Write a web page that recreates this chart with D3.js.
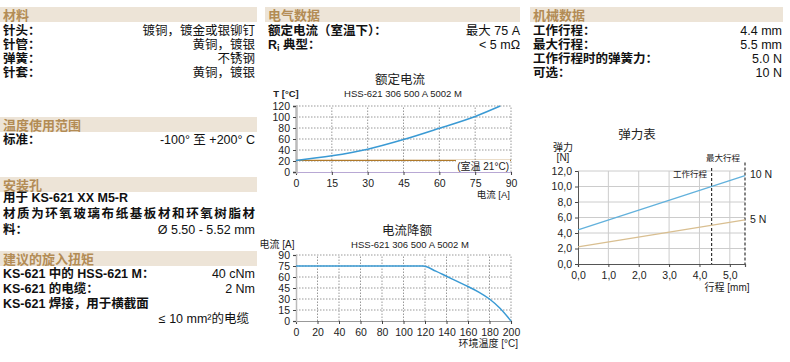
<!DOCTYPE html>
<html>
<head>
<meta charset="utf-8">
<script src="https://cdn.jsdelivr.net/npm/d3@7"></script>
<style>
	body { margin: 0; background: #fff; }
	svg { display: block; }
</style>
</head>
<body>
<div id="chart"></div>
<script>
// 数据
var sections = [
	{ title: "材料", x: 0, w: 257, y: 7 },
	{ title: "温度使用范围", x: 0, w: 257, y: 117 },
	{ title: "安装孔", x: 0, w: 257, y: 177 },
	{ title: "建议的旋入扭矩", x: 0, w: 257, y: 251 },
	{ title: "电气数据", x: 265, w: 255, y: 7 },
	{ title: "机械数据", x: 530, w: 253, y: 7 }
];
var rows = [
	{ x0: 0, x1: 255, y: 31, label: "针头：", value: "镀铜，镀金或银铆钉" },
	{ x0: 0, x1: 255, y: 45, label: "针管：", value: "黄铜，镀银" },
	{ x0: 0, x1: 255, y: 59, label: "弹簧：", value: "不锈钢" },
	{ x0: 0, x1: 255, y: 73, label: "针套：", value: "黄铜，镀银" },
	{ x0: 0, x1: 255, y: 140, label: "标准：", value: "-100° 至 +200° C" },
	{ x0: 0, x1: 255, y: 198, label: "用于 KS-621 XX M5-R", value: "" },
	{ x0: 0, x1: 255, y: 214, label: "材质为环氧玻璃布纸基板材和环氧树脂材", value: "", fit: 252 },
	{ x0: 0, x1: 255, y: 230, label: "料：", value: "Ø 5.50 - 5.52 mm" },
	{ x0: 0, x1: 255, y: 274, label: "KS-621 中的 HSS-621 M：", value: "40 cNm" },
	{ x0: 0, x1: 255, y: 289, label: "KS-621 的电缆：", value: "2 Nm" },
	{ x0: 0, x1: 255, y: 304, label: "KS-621 焊接，用于横截面", value: "" },
	{ x0: 0, x1: 249, y: 319, label: "", value: "≤ 10 mm²的电缆" },
	{ x0: 265, x1: 520, y: 31, label: "额定电流（室温下）：", value: "最大 75 A" },
	{ x0: 265, x1: 520, y: 45, label: "R|i| 典型：", value: "< 5 mΩ" },
	{ x0: 530, x1: 782, y: 31, label: "工作行程：", value: "4.4 mm" },
	{ x0: 530, x1: 782, y: 45, label: "最大行程：", value: "5.5 mm" },
	{ x0: 530, x1: 782, y: 59, label: "工作行程时的弹簧力：", value: "5.0 N" },
	{ x0: 530, x1: 782, y: 73, label: "可选：", value: "10 N" }
];

// 额定电流
var ratedI = [0, 15, 30, 45, 60, 75, 85.5];
var ratedT = [21, 29.5, 41.5, 59, 79.5, 101, 120];
var roomTemp = 21;
var ratedXTicks = [0, 15, 30, 45, 60, 75, 90];
var ratedYTicks = [0, 20, 40, 60, 80, 100, 120];

// 电流降额
var derateT = [0, 118, 130, 140, 150, 160, 170, 180, 190, 200];
var derateI = [75, 75, 68, 61, 54, 47, 39.5, 30, 17, 0];
var derateXTicks = [0, 20, 40, 60, 80, 100, 120, 140, 160, 180, 200];
var derateYTicks = [0, 15, 30, 45, 60, 75, 90];

// 弹力表
var stroke = [0, 5.5];
var force10 = [4.4, 11.4];
var force5 = [2.2, 5.7];
var springXTicks = [0, 1, 2, 3, 4, 5];
var springYTicks = [0, 2, 4, 6, 8, 10, 12];
var workStroke = 4.4;
var maxStroke = 5.5;

var arial = "'Liberation Sans', Arial, 'Noto Sans CJK SC', sans-serif";
var gold = "#b38c55";
var blue = "#3a9ad4";
var tan = "#d9bf91";

var svg = d3.select("#chart").append("svg")
	.attr("width", 790)
	.attr("height", 362);

// 标题条
sections.forEach(function(s) {
	svg.append("rect")
		.attr("x", s.x).attr("y", s.y)
		.attr("width", s.w).attr("height", 15)
		.attr("fill", "#ede4d7");
	svg.append("text")
		.attr("x", s.x + 3).attr("y", s.y + 8)
		.attr("dominant-baseline", "central")
		.style("font-family", arial)
		.style("font-size", "13px")
		.style("font-weight", "bold")
		.attr("fill", gold)
		.text(s.title);
});

rows.forEach(function(r) {
	if (r.label) {
		var t = svg.append("text")
			.attr("x", r.x0 + 3).attr("y", r.y)
			.attr("dominant-baseline", "central")
			.style("font-family", arial)
			.style("font-size", "12.5px")
			.style("font-weight", "bold")
			.attr("fill", "#111");
		// "|i|" 表示下标
		r.label.split("|").forEach(function(part, i) {
			var sp = t.append("tspan").text(part);
			if (i == 1) sp.attr("dy", 3).style("font-size", "9px");
			if (i == 2) sp.attr("dy", -3);
		});
		if (r.fit) t.attr("textLength", r.fit).attr("lengthAdjust", "spacing");
	}
	if (r.value) svg.append("text")
		.attr("x", r.x1).attr("y", r.y)
		.attr("dominant-baseline", "central")
		.attr("text-anchor", "end")
		.style("font-family", arial)
		.style("font-size", "12.5px")
		.attr("fill", "#111")
		.text(r.value);
});

function txt(x, y, s, size, anchor, weight) {
	return svg.append("text")
		.attr("x", x).attr("y", y)
		.attr("dominant-baseline", "central")
		.attr("text-anchor", anchor || "middle")
		.style("font-family", arial)
		.style("font-size", size + "px")
		.style("font-weight", weight || "normal")
		.attr("fill", "#222")
		.text(s);
}

// 通用网格图
function grid(x, y, xt, yt, opt) {
	var g = svg.append("g");
	g.selectAll(".vx").data(xt.slice(1)).enter().append("line")
		.attr("x1", d => x(d)).attr("x2", d => x(d))
		.attr("y1", y.range()[0]).attr("y2", y.range()[1])
		.attr("stroke", opt.gridColor)
		.attr("stroke-dasharray", opt.dash)
		.attr("stroke-width", 1);
	g.selectAll(".hy").data(yt.slice(1)).enter().append("line")
		.attr("x1", x.range()[0]).attr("x2", x.range()[1])
		.attr("y1", d => y(d)).attr("y2", d => y(d))
		.attr("stroke", opt.gridColor)
		.attr("stroke-dasharray", opt.dash)
		.attr("stroke-width", 1);

	var xa = svg.append("g")
		.attr("transform", `translate(0,${y.range()[0]})`)
		.call(d3.axisBottom(x).tickValues(xt).tickSize(3).tickFormat(opt.fmtX));
	var ya = svg.append("g")
		.attr("transform", `translate(${x.range()[0]},0)`)
		.call(d3.axisLeft(y).tickValues(yt).tickSize(3).tickFormat(opt.fmtY));
	[xa, ya].forEach(function(a) {
		a.selectAll("text")
			.style("font-family", arial)
			.style("font-size", "10.5px")
			.attr("fill", "#222");
		a.selectAll(".tick line").attr("stroke", "#444");
	});
	xa.select(".domain").attr("stroke", opt.xAxisColor).attr("stroke-width", 1.2);
	ya.select(".domain").attr("stroke", opt.yAxisColor).attr("stroke-width", opt.yAxisWidth);
	xa.selectAll("text").attr("dy", "0.9em");
	return g;
}

// 图1 额定电流
var x1 = d3.scaleLinear().domain([0, 90]).range([296, 511]);
var y1 = d3.scaleLinear().domain([0, 120]).range([172, 106]);
txt(400, 80, "额定电流", 12.5);
txt(403, 93, "HSS-621 306 500 A 5002 M", 9.5);
txt(286, 93, "T [°C]", 9.5, "middle", "bold");
grid(x1, y1, ratedXTicks, ratedYTicks, {
	gridColor: "#999", dash: "1.5,1.5", xAxisColor: "#b8a8d4",
	yAxisColor: "#bbb", yAxisWidth: 2.5, fmtX: d3.format("d"), fmtY: d3.format("d")
});
svg.append("line")
	.attr("x1", x1(0)).attr("x2", x1(90))
	.attr("y1", y1(roomTemp)).attr("y2", y1(roomTemp))
	.attr("stroke", "#b07a2a").attr("stroke-width", 1.2);
svg.append("rect")
	.attr("x", 456).attr("y", 160).attr("width", 54).attr("height", 11)
	.attr("fill", "#fff");
txt(509, 166, "(室温 21°C)", 10, "end");
svg.append("path")
	.datum(d3.zip(ratedI, ratedT))
	.attr("fill", "none").attr("stroke", blue).attr("stroke-width", 1.5)
	.attr("d", d3.line().x(d => x1(d[0])).y(d => y1(d[1])).curve(d3.curveMonotoneX));
txt(510, 194, "电流 [A]", 9.5, "end");

// 图2 电流降额
var x2 = d3.scaleLinear().domain([0, 200]).range([296, 511]);
var y2 = d3.scaleLinear().domain([0, 90]).range([321, 255]);
txt(407, 231, "电流降额", 12.5);
txt(410, 244, "HSS-621 306 500 A 5002 M", 9.5);
txt(277, 244, "电流 [A]", 10, "middle");
grid(x2, y2, derateXTicks, derateYTicks, {
	gridColor: "#999", dash: "1.5,1.5", xAxisColor: "#999",
	yAxisColor: "#bbb", yAxisWidth: 1.5, fmtX: d3.format("d"), fmtY: d3.format("d")
});
svg.append("path")
	.datum(d3.zip(derateT, derateI))
	.attr("fill", "none").attr("stroke", blue).attr("stroke-width", 1.5)
	.attr("d", d3.line().x(d => x2(d[0])).y(d => y2(d[1])).curve(d3.curveMonotoneX));
txt(518, 343, "环境温度 [°C]", 10, "end");

// 图3 弹力表
var x3 = d3.scaleLinear().domain([0, 5.5]).range([578, 745]);
var y3 = d3.scaleLinear().domain([0, 12]).range([264, 171]);
var comma = d => d3.format(".1f")(d).replace(".", ",");
txt(637, 135, "弹力表", 12.5);
txt(563, 147, "弹力", 10);
txt(563, 157, "[N]", 10);
grid(x3, y3, springXTicks, springYTicks, {
	gridColor: "#ccc", dash: null, xAxisColor: "#555",
	yAxisColor: "#555", yAxisWidth: 1, fmtX: comma, fmtY: comma
});
svg.append("line")
	.attr("x1", x3(workStroke)).attr("x2", x3(workStroke))
	.attr("y1", y3(12.4)).attr("y2", y3(0))
	.attr("stroke", "#333").attr("stroke-dasharray", "3,2").attr("stroke-width", 1.2);
svg.append("line")
	.attr("x1", x3(maxStroke)).attr("x2", x3(maxStroke))
	.attr("y1", y3(13.1)).attr("y2", y3(0))
	.attr("stroke", "#333").attr("stroke-dasharray", "3,2").attr("stroke-width", 1.2);
svg.append("path")
	.datum(d3.zip(stroke, force10))
	.attr("fill", "none").attr("stroke", "#62b1dc").attr("stroke-width", 1.3)
	.attr("d", d3.line().x(d => x3(d[0])).y(d => y3(d[1])));
svg.append("path")
	.datum(d3.zip(stroke, force5))
	.attr("fill", "none").attr("stroke", tan).attr("stroke-width", 1.3)
	.attr("d", d3.line().x(d => x3(d[0])).y(d => y3(d[1])));
txt(707, 174, "工作行程", 8.5, "end");
txt(723, 158, "最大行程", 8.5);
txt(750, 174, "10 N", 10.5, "start");
txt(750, 219, "5 N", 10.5, "start");
txt(727, 287, "行程 [mm]", 10);
</script>
</body>
</html>
